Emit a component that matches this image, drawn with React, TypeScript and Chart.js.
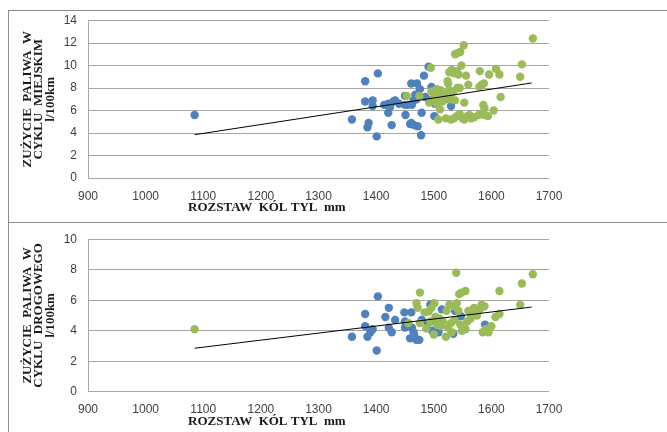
import React, { useEffect, useRef } from "react";
import { Chart, registerables } from "chart.js";

Chart.register(...registerables);

// Rear track width (mm) vs. fuel consumption (l/100km)
const xRange = { min: 900, max: 1700, step: 100 };

// Urban cycle
const cityBlue: [number, number][] = [
  [1085, 5.6], [1358, 5.2], [1381, 8.6], [1381, 6.8], [1387, 4.9], [1385, 4.5], [1394, 6.9],
  [1394, 6.4], [1401, 3.7], [1403, 9.3], [1414, 6.5], [1421, 6.6], [1421, 5.8], [1424, 6.3],
  [1427, 4.7], [1430, 6.8], [1433, 6.9], [1450, 7.3], [1450, 6.5], [1451, 5.6], [1461, 8.4],
  [1462, 6.5], [1461, 4.9], [1459, 4.8], [1466, 4.7], [1471, 8.4], [1472, 4.6], [1476, 7.9],
  [1478, 3.8], [1479, 5.8], [1483, 9.1], [1491, 9.9], [1496, 8.1], [1501, 5.5], [1530, 6.4],
  [1468, 7.4], [1485, 7.2], [1502, 6.6], [1465, 6.9], [1455, 6.5], [1470, 7.0], [1440, 6.6],
  [1498, 7.0], [1510, 7.2], [1520, 7.0],
];
const cityGreen: [number, number][] = [
  [1453, 7.3], [1475, 7.3], [1495, 9.8], [1496, 7.7], [1492, 6.7], [1500, 7.5], [1505, 7.9],
  [1508, 7.6], [1503, 7.2], [1498, 6.9], [1512, 7.8], [1515, 6.8], [1518, 7.4], [1508, 5.2],
  [1511, 6.1], [1521, 5.3], [1524, 8.6], [1525, 8.4], [1527, 9.4], [1531, 9.6], [1535, 9.3],
  [1540, 9.5], [1543, 9.2], [1537, 11.0], [1541, 11.1], [1546, 11.2], [1552, 11.8], [1548, 10.0],
  [1556, 9.1], [1560, 8.3], [1553, 6.7], [1541, 8.0], [1545, 8.0], [1534, 7.7], [1537, 6.9],
  [1528, 7.0], [1522, 7.1], [1530, 5.2], [1535, 5.3], [1540, 5.5], [1545, 5.7], [1550, 5.3],
  [1553, 5.2], [1558, 5.5], [1562, 5.6], [1565, 5.3], [1570, 5.4], [1578, 5.6], [1583, 5.7],
  [1588, 5.6], [1594, 5.5], [1604, 6.0], [1586, 6.5], [1588, 6.2], [1579, 8.1], [1583, 8.3],
  [1587, 8.4], [1580, 9.5], [1596, 9.2], [1608, 9.7], [1614, 9.2], [1616, 7.2], [1650, 9.0],
  [1653, 10.1], [1672, 12.4], [1527, 7.8], [1532, 7.6], [1515, 7.4], [1505, 6.6],
];
const cityTrend: [number, number][] = [[1085, 3.85], [1670, 8.45]];

// Extra-urban cycle
const roadBlue: [number, number][] = [
  [1358, 3.6], [1381, 5.1], [1381, 4.3], [1385, 3.6], [1390, 3.9], [1394, 4.1], [1401, 2.7],
  [1403, 6.25], [1416, 4.9], [1422, 5.5], [1422, 4.2], [1427, 3.9], [1433, 4.7], [1449, 5.2],
  [1450, 4.6], [1450, 4.2], [1461, 5.2], [1462, 4.2], [1459, 3.5], [1465, 3.9], [1470, 3.4],
  [1475, 3.4], [1479, 4.7], [1494, 5.7], [1497, 4.0], [1508, 3.9], [1514, 5.4], [1534, 3.8],
  [1537, 5.3], [1547, 4.95], [1589, 4.4], [1503, 4.7], [1466, 3.7], [1455, 4.5], [1490, 4.5],
];
const roadGreen: [number, number][] = [
  [1085, 4.1], [1456, 4.5], [1470, 5.8], [1472, 5.5], [1476, 6.5], [1476, 4.5], [1484, 5.2],
  [1491, 5.25], [1496, 5.5], [1501, 5.8], [1487, 4.15], [1494, 4.6], [1500, 3.75], [1503, 4.9],
  [1505, 4.4], [1510, 4.8], [1516, 4.6], [1521, 3.6], [1522, 5.3], [1527, 5.7], [1531, 3.9],
  [1534, 5.6], [1539, 7.8], [1540, 5.8], [1543, 5.3], [1544, 6.4], [1548, 6.5], [1555, 6.6],
  [1546, 4.4], [1549, 4.0], [1555, 4.1], [1558, 4.6], [1564, 4.8], [1569, 5.2], [1575, 5.0],
  [1580, 5.4], [1583, 5.7], [1588, 5.6], [1585, 3.9], [1595, 3.9], [1598, 4.2], [1607, 4.9],
  [1614, 5.1], [1614, 6.6], [1650, 5.7], [1653, 7.1], [1672, 7.7], [1530, 4.5], [1536, 4.7],
  [1525, 4.2], [1512, 4.3], [1560, 5.3], [1570, 5.5], [1600, 4.3], [1590, 4.1],
];
const roadTrend: [number, number][] = [[1085, 2.85], [1670, 5.55]];

const xAxisTitle = "ROZSTAW  KÓL TYL  mm";
const cityAxisTitle = ["ZUŻYCIE  PALIWA  W", "CYKLU  MIEJSKIM", "l/100km"];
const roadAxisTitle = ["ZUŻYCIE  PALIWA  W", "CYKLU  DROGOWEGO", "l/100km"];

const BLUE = "#4f81bd";
const GREEN = "#9bbb59";
const GRID = "#a6a6a6";
const TICK = "#404040";
const FRAME = "#8c8c8c";
const SERIF = '"Liberation Serif", "Times New Roman", serif';
const SANS = '"Liberation Sans", Arial, sans-serif';

const toXY = (pts: [number, number][]) => pts.map(([x, y]) => ({ x, y }));

// Bottom axis title, placed left of the plot centre
const xTitlePlugin = {
  id: "xTitleText",
  afterDraw(chart: any, _args: any, opts: any) {
    const { ctx, chartArea } = chart;
    ctx.save();
    ctx.font = `bold 13px ${SERIF}`;
    ctx.fillStyle = "#1a1a1a";
    ctx.textAlign = "center";
    ctx.textBaseline = "middle";
    const cx = chartArea.left + (chartArea.right - chartArea.left) * opts.frac;
    ctx.fillText(opts.text, cx, chartArea.bottom + opts.offset);
    ctx.restore();
  },
};

type PanelProps = {
  top: number;
  width: number;
  height: number;
  plotTop: number;
  plotBottom: number;
  yMax: number;
  yTitle: string[];
  blue: [number, number][];
  green: [number, number][];
  trend: [number, number][];
};

function ScatterPanel(p: PanelProps) {
  const ref = useRef<HTMLCanvasElement | null>(null);

  useEffect(() => {
    if (!ref.current) return;
    const plotLeft = 88;
    const plotRight = 549;
    const chart = new Chart(ref.current, {
      type: "scatter",
      data: {
        datasets: [
          {
            type: "line",
            data: toXY(p.trend),
            borderColor: "#000000",
            borderWidth: 1,
            pointRadius: 0,
            showLine: true,
            fill: false,
            order: 0,
          } as any,
          {
            data: toXY(p.green),
            backgroundColor: GREEN,
            borderWidth: 0,
            pointRadius: 4.2,
            order: 1,
          },
          {
            data: toXY(p.blue),
            backgroundColor: BLUE,
            borderWidth: 0,
            pointRadius: 4.2,
            order: 2,
          },
        ],
      },
      options: {
        animation: false,
        responsive: false,
        events: [],
        layout: {
          padding: { left: 0, right: p.width - plotRight, top: p.plotTop, bottom: 0 },
        },
        plugins: {
          legend: { display: false },
          tooltip: { enabled: false },
          xTitleText: { text: xAxisTitle, frac: 0.388, offset: 30 },
        } as any,
        scales: {
          x: {
            type: "linear",
            min: xRange.min,
            max: xRange.max,
            grid: { display: false, drawTicks: false },
            border: { display: false },
            ticks: {
              stepSize: xRange.step,
              padding: 11,
              color: TICK,
              font: { family: SANS, size: 12 },
              maxRotation: 0,
              callback: (v: any) => String(v),
            },
            afterFit: (scale: any) => {
              scale.height = p.height - p.plotBottom;
            },
          },
          y: {
            min: 0,
            max: p.yMax,
            grid: { color: GRID, lineWidth: 1, drawTicks: false },
            border: { display: true, color: GRID, width: 1 },
            ticks: {
              stepSize: 2,
              padding: 11,
              color: TICK,
              font: { family: SANS, size: 12 },
              callback: (v: any) => String(v),
            },
            title: {
              display: true,
              text: p.yTitle,
              color: "#1a1a1a",
              font: { family: SERIF, size: 13, weight: "bold", lineHeight: 0.9 },
              padding: { top: 21.5, bottom: 0 },
            },
            afterFit: (scale: any) => {
              scale.width = plotLeft;
            },
          },
        },
      },
      plugins: [xTitlePlugin],
    });
    return () => chart.destroy();
  }, []);

  return (
    <canvas
      ref={ref}
      width={p.width}
      height={p.height}
      style={{ position: "absolute", left: 0, top: p.top, width: p.width, height: p.height }}
    />
  );
}

export default function App() {
  return (
    <div
      style={{
        position: "fixed",
        left: 0,
        top: 0,
        width: 667,
        height: 432,
        overflow: "hidden",
        background: "#ffffff",
      }}
    >
      <div
        style={{
          position: "absolute",
          left: 8,
          top: 10,
          width: 659,
          height: 422,
          borderTop: `1px solid ${FRAME}`,
          borderLeft: `1px solid ${FRAME}`,
          boxSizing: "border-box",
        }}
      />
      <div
        style={{ position: "absolute", left: 8, top: 222, width: 659, height: 1, background: FRAME }}
      />
      <ScatterPanel
        top={0}
        width={667}
        height={221}
        plotTop={20.5}
        plotBottom={178}
        yMax={14}
        yTitle={cityAxisTitle}
        blue={cityBlue}
        green={cityGreen}
        trend={cityTrend}
      />
      <ScatterPanel
        top={221}
        width={667}
        height={211}
        plotTop={12.4}
        plotBottom={170.7}
        yMax={10}
        yTitle={roadAxisTitle}
        blue={roadBlue}
        green={roadGreen}
        trend={roadTrend}
      />
    </div>
  );
}
